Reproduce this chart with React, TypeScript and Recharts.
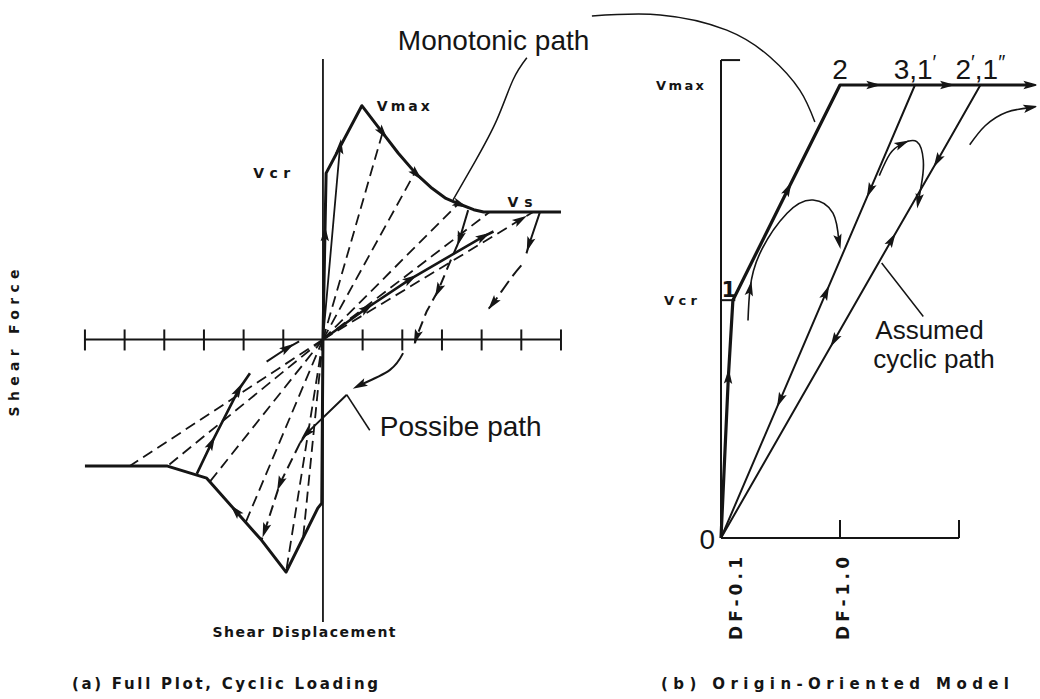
import React from 'react';
import { LineChart, Line, XAxis, YAxis, ReferenceLine, ReferenceDot } from 'recharts';

type Pt = { x: number; y: number; arrow?: number };

const INK = '#151515';
const W = 1040;
const H = 699;
const PLOT_FONT = "'DejaVu Sans', sans-serif";
const HAND_FONT = "'Liberation Sans', Arial, sans-serif";
const ORIGIN: Pt = { x: 0, y: 0 };

// ---------- (a) full plot: displacement in tick steps, force scaled so Vmax = 6 ----------
const dispTicks = [-6, -5, -4, -3, -2, -1, 0, 1, 2, 3, 4, 5, 6];
const forceAxis = [-7.25, 7.2];

const envelopePos: Pt[] = [
  { x: 0, y: 0 }, { x: 0.05, y: 2.7, arrow: 1 }, { x: 0.08, y: 4.27 }, { x: 0.98, y: 6.0 },
  { x: 1.5, y: 5.31, arrow: 1 }, { x: 1.9, y: 4.78 }, { x: 2.35, y: 4.25, arrow: 1 }, { x: 2.75, y: 3.88 },
  { x: 3.1, y: 3.62 }, { x: 3.45, y: 3.47, arrow: 1 }, { x: 3.8, y: 3.33 }, { x: 4.05, y: 3.27 }, { x: 6, y: 3.27 },
];
const envelopeNeg: Pt[] = [
  { x: 0, y: 0 }, { x: -0.03, y: -4.2 }, { x: -0.13, y: -4.33 }, { x: -0.93, y: -5.97 },
  { x: -1.55, y: -5.15 }, { x: -2.2, y: -4.4, arrow: 1 }, { x: -2.93, y: -3.56 }, { x: -3.92, y: -3.25 }, { x: -6, y: -3.25 },
];
const peakReload: Pt[] = [{ x: 0, y: 0 }, { x: 0.43, y: 4.94, arrow: 1 }, { x: 0.6, y: 5.27 }];
const rayEndsPos: Pt[] = [{ x: 1.5, y: 5.3 }, { x: 2.3, y: 4.25 }, { x: 3.4, y: 3.47 }, { x: 4.2, y: 3.27 }];
const rayEndsNeg: Pt[] = [
  { x: -0.5, y: -5.09 }, { x: -0.93, y: -5.97 }, { x: -1.95, y: -4.7 },
  { x: -2.85, y: -3.65 }, { x: -3.92, y: -3.25 }, { x: -4.87, y: -3.25 },
];
const plateauRay: Pt[] = [{ x: 0, y: 0 }, { x: 4.97, y: 3.07, arrow: 1 }, { x: 5.3, y: 3.27 }];
const cyclicReload: Pt[] = [
  { x: 0, y: 0 }, { x: 1.1, y: 0.8, arrow: 1 }, { x: 2.2, y: 1.55, arrow: 1 }, { x: 4.04, y: 2.64, arrow: 1 }, { x: 4.3, y: 2.77 },
];
const unloadStep: Pt[] = [{ x: 3.66, y: 3.32 }, { x: 3.45, y: 2.6, arrow: 1 }, { x: 3.4, y: 2.45 }];
const unloadTrail: Pt[] = [
  { x: 3.4, y: 2.45 }, { x: 3.24, y: 2.08 }, { x: 2.91, y: 1.27, arrow: 1 }, { x: 2.61, y: 0.71 },
  { x: 2.36, y: 0.07, arrow: 1 }, { x: 2.32, y: -0.1 },
];
const crossCurve: Pt[] = [{ x: 2.02, y: -0.35 }, { x: 1.69, y: -0.78 }, { x: 0.93, y: -1.17, arrow: 1 }];
const possibleSolid: Pt[] = [{ x: 0.6, y: -1.42 }, { x: -0.41, y: -2.41, arrow: 1 }, { x: -0.58, y: -2.66 }];
const possibleDashed: Pt[] = [
  { x: -0.58, y: -2.66 }, { x: -1.08, y: -3.69, arrow: 1 }, { x: -1.46, y: -4.89, arrow: 1 }, { x: -1.55, y: -5.15 },
];
const farUnloadSolid: Pt[] = [{ x: 5.47, y: 3.27 }, { x: 5.2, y: 2.45, arrow: 1 }, { x: 5.13, y: 2.21 }];
const farUnloadDashed: Pt[] = [
  { x: 5.0, y: 1.9 }, { x: 4.71, y: 1.53 }, { x: 4.29, y: 0.93, arrow: 1 }, { x: 4.13, y: 0.76 },
];
const negReload: Pt[] = [
  { x: -3.18, y: -3.45 }, { x: -2.81, y: -2.66, arrow: 1 }, { x: -2.13, y: -1.3, arrow: 1 }, { x: -1.84, y: -0.87 },
];
const negReturn: Pt[] = [{ x: -1.42, y: -0.57 }, { x: -0.9, y: -0.22, arrow: 1 }, { x: -0.6, y: -0.05 }];

const monoLeaderLeft: Pt[] = [
  { x: 5.14, y: 7.23 }, { x: 4.79, y: 6.66 }, { x: 4.38, y: 5.63 }, { x: 3.83, y: 4.56 }, { x: 3.28, y: 3.58 },
];
const monoLeaderRight: Pt[] = [
  { x: 6.78, y: 8.3 }, { x: 8.5, y: 8.33 }, { x: 10.18, y: 7.94 }, { x: 11.27, y: 7.25 }, { x: 12.02, y: 6.4 }, { x: 12.4, y: 5.58 },
];
const possibleLeader: Pt[] = [{ x: 1.18, y: -2.33 }, { x: 0.6, y: -1.42 }];

// ---------- (b) origin-oriented model: x in DF, force as V / Vmax ----------
const dfTicks = [1, 2];
const dfTickLabels = [{ x: 0.1, text: 'DF-0.1' }, { x: 1.0, text: 'DF-1.0' }];
const vcrB = 0.525;
const vmaxB = 1;
const forceTopB = 1.055;

const envelopeB: Pt[] = [
  { x: 0, y: 0 }, { x: 0.062, y: 0.356, arrow: 1 }, { x: 0.1, y: vcrB }, { x: 0.563, y: 0.77, arrow: 1 },
  { x: 1, y: vmaxB }, { x: 1.28, y: 1, arrow: 1 }, { x: 1.9, y: 1, arrow: 1 }, { x: 2.6, y: 1, arrow: 1 },
];
const pathA: Pt[] = [
  { x: 1.63, y: 1 }, { x: 1.252, y: 0.768, arrow: 1 }, { x: 0.882, y: 0.541, arrow: -1 }, { x: 0.497, y: 0.305, arrow: 1 }, { x: 0, y: 0 },
];
const pathB: Pt[] = [
  { x: 2.18, y: 1 }, { x: 1.82, y: 0.834, arrow: 1 }, { x: 1.434, y: 0.658, arrow: -1 }, { x: 0.953, y: 0.437, arrow: 1 }, { x: 0, y: 0 },
];
const loopOne: Pt[] = [
  { x: 0.227, y: 0.48 }, { x: 0.244, y: 0.55, arrow: 1 }, { x: 0.328, y: 0.629 }, { x: 0.555, y: 0.717 },
  { x: 0.773, y: 0.746 }, { x: 0.941, y: 0.717 }, { x: 0.99, y: 0.655, arrow: 1 },
];
const loopTwo: Pt[] = [
  { x: 1.33, y: 0.8 }, { x: 1.42, y: 0.848 }, { x: 1.52, y: 0.87, arrow: 1 }, { x: 1.645, y: 0.875 },
  { x: 1.7, y: 0.834 }, { x: 1.69, y: 0.79 }, { x: 1.66, y: 0.745, arrow: 1 },
];
const curveOut: Pt[] = [{ x: 2.09, y: 0.868 }, { x: 2.22, y: 0.91 }, { x: 2.4, y: 0.94 }, { x: 2.6, y: 0.95, arrow: 1 }];
const assumedLeader: Pt[] = [{ x: 1.7, y: 0.489 }, { x: 1.504, y: 0.555 }, { x: 1.35, y: 0.607 }];

// arrowhead drawn on flagged points, pointing along the path (or against it for -1)
const arrowDot = (props: any) => {
  const { cx, cy, index, payload, points, key } = props;
  const dir = payload?.arrow;
  if (!dir || !points || cx == null) return <g key={key ?? index} />;
  const a = points[Math.max(index - 1, 0)];
  const b = points[Math.min(index + 1, points.length - 1)];
  const ang = (Math.atan2(b.y - a.y, b.x - a.x) * 180) / Math.PI + (dir < 0 ? 180 : 0);
  return (
    <path
      key={key ?? index}
      d="M8,0 L-7,-4.2 L-4,0 L-7,4.2 Z"
      transform={`translate(${cx},${cy}) rotate(${ang})`}
      fill={INK}
    />
  );
};

type Stroke = { w?: number; dash?: string; curve?: 'linear' | 'natural' };
const path = (id: string, data: Pt[], s: Stroke = {}) => (
  <Line
    key={id}
    data={data}
    dataKey="y"
    type={s.curve ?? 'linear'}
    stroke={INK}
    strokeWidth={s.w ?? 1.8}
    strokeDasharray={s.dash}
    strokeLinejoin="round"
    dot={arrowDot}
    activeDot={false}
    isAnimationActive={false}
  />
);

const tag = (id: string, at: Pt, draw: (cx: number, cy: number) => React.ReactElement) => (
  <ReferenceDot key={id} x={at.x} y={at.y} r={0} ifOverflow="visible" shape={(p: any) => draw(p.cx, p.cy)} />
);

const plotText = (x: number, y: number, text: string, o: { size?: number; len?: number; anchor?: string; rot?: number } = {}) => (
  <text
    x={x}
    y={y}
    fontFamily={PLOT_FONT}
    fontWeight="bold"
    fontSize={o.size ?? 14}
    textAnchor={o.anchor ?? 'start'}
    textLength={o.len}
    lengthAdjust="spacing"
    transform={o.rot ? `rotate(${o.rot} ${x} ${y})` : undefined}
    fill={INK}
  >
    {text}
  </text>
);

const handText = (x: number, y: number, text: React.ReactNode, anchor = 'start', size = 28) => (
  <text x={x} y={y} fontFamily={HAND_FONT} fontSize={size} textAnchor={anchor} fill={INK}>
    {text}
  </text>
);

const DASH = '11 6';

function FullPlot() {
  return (
    <LineChart width={W} height={H} margin={{ top: 8.3, right: 3, bottom: 8.9, left: 5.6 }}>
      <XAxis type="number" dataKey="x" domain={[-8, 18]} hide allowDataOverflow />
      <YAxis type="number" domain={[-9, 8.5]} hide allowDataOverflow />

      <ReferenceLine segment={[{ x: dispTicks[0], y: 0 }, { x: dispTicks[dispTicks.length - 1], y: 0 }]} stroke={INK} strokeWidth={2} />
      <ReferenceLine segment={[{ x: 0, y: forceAxis[0] }, { x: 0, y: forceAxis[1] }]} stroke={INK} strokeWidth={1.8} />
      {dispTicks.map((t) =>
        tag(`t${t}`, { x: t, y: 0 }, (cx, cy) => (
          <line x1={cx} x2={cx} y1={cy - 10} y2={cy + 11} stroke={INK} strokeWidth={2} />
        )),
      )}

      {rayEndsPos.map((p, i) => path(`rp${i}`, [ORIGIN, p], { dash: DASH }))}
      {rayEndsNeg.map((p, i) => path(`rn${i}`, [ORIGIN, p], { dash: DASH }))}
      {path('plateauRay', plateauRay, { dash: DASH })}
      {path('envPos', envelopePos, { w: 3 })}
      {path('envNeg', envelopeNeg, { w: 3 })}
      {path('peakReload', peakReload)}
      {path('cyclicReload', cyclicReload, { w: 2.6 })}
      {path('unloadStep', unloadStep, { w: 2 })}
      {path('unloadTrail', unloadTrail, { w: 2, dash: DASH })}
      {path('crossCurve', crossCurve, { w: 2, curve: 'natural' })}
      {path('possibleSolid', possibleSolid, { w: 2 })}
      {path('possibleDashed', possibleDashed, { w: 2, dash: DASH })}
      {path('farUnloadSolid', farUnloadSolid, { w: 2 })}
      {path('farUnloadDashed', farUnloadDashed, { w: 2, dash: '14 6', curve: 'natural' })}
      {path('negReload', negReload, { w: 2.6 })}
      {path('negReturn', negReturn, { w: 2 })}
      {path('monoLeft', monoLeaderLeft, { w: 1.5, curve: 'natural' })}
      {path('monoRight', monoLeaderRight, { w: 1.5, curve: 'natural' })}
      {path('possibleLeader', possibleLeader, { w: 1.5 })}

      {tag('vcr', envelopePos[2], (cx, cy) => plotText(cx - 36, cy + 5, 'Vcr', { len: 37, anchor: 'end' }))}
      {tag('vmax', envelopePos[3], (cx, cy) => plotText(cx + 15, cy + 5, 'Vmax', { len: 53 }))}
      {tag('vs', envelopePos[11], (cx, cy) => plotText(cx + 24, cy - 5, 'Vs', { len: 25 }))}
      {tag('mono', monoLeaderLeft[0], (cx, cy) => handText(cx - 129, cy - 8, 'Monotonic path'))}
      {tag('possible', possibleLeader[0], (cx, cy) => handText(cx + 10, cy + 6, 'Possibe path'))}

      {plotText(19, 343, 'Shear Force', { len: 147, anchor: 'middle', rot: -90 })}
      {plotText(304, 637, 'Shear Displacement', { len: 183, anchor: 'middle' })}
      {plotText(225, 689, '(a) Full Plot, Cyclic Loading', { len: 306, anchor: 'middle', size: 15 })}
    </LineChart>
  );
}

function OriginModel() {
  return (
    <LineChart width={W} height={H} margin={{ top: 17.05, right: 3.65, bottom: 2.45, left: 7 }}>
      <XAxis type="number" dataKey="x" domain={[-6, 2.65]} hide allowDataOverflow />
      <YAxis type="number" domain={[-0.35, 1.15]} hide allowDataOverflow />

      <ReferenceLine segment={[{ x: 0, y: 0 }, { x: 0, y: forceTopB }]} stroke={INK} strokeWidth={2} />
      <ReferenceLine segment={[{ x: 0, y: forceTopB }, { x: 0.16, y: forceTopB }]} stroke={INK} strokeWidth={2} />
      <ReferenceLine segment={[{ x: 0, y: vcrB }, { x: 0.12, y: vcrB }]} stroke={INK} strokeWidth={2} />
      <ReferenceLine segment={[{ x: 0, y: 0 }, { x: dfTicks[dfTicks.length - 1], y: 0 }]} stroke={INK} strokeWidth={2} />
      {dfTicks.map((t) =>
        tag(`df${t}`, { x: t, y: 0 }, (cx, cy) => <line x1={cx} x2={cx} y1={cy} y2={cy - 18} stroke={INK} strokeWidth={2} />),
      )}
      {dfTickLabels.map((d) =>
        tag(`dfl${d.x}`, { x: d.x, y: 0 }, (cx, cy) => plotText(cx + 9, cy + 102, d.text, { size: 17, len: 83, rot: -90 })),
      )}

      {path('pathA', pathA, { w: 2 })}
      {path('pathB', pathB, { w: 2 })}
      {path('envB', envelopeB, { w: 3.2 })}
      {path('loopOne', loopOne, { w: 1.6, curve: 'natural' })}
      {path('loopTwo', loopTwo, { w: 1.6, curve: 'natural' })}
      {path('curveOut', curveOut, { w: 1.6, curve: 'natural' })}
      {path('assumedLeader', assumedLeader, { w: 1.5, curve: 'natural' })}

      {tag('bmax', { x: 0, y: vmaxB }, (cx, cy) => plotText(cx - 17, cy + 5, 'Vmax', { len: 48, anchor: 'end', size: 13 }))}
      {tag('bcr', { x: 0, y: vcrB }, (cx, cy) => plotText(cx - 24, cy + 5, 'Vcr', { len: 33, anchor: 'end', size: 13 }))}
      {tag('b0', ORIGIN, (cx, cy) => handText(cx - 6, cy + 11, '0', 'end'))}
      {tag('b1', envelopeB[2], (cx, cy) => plotText(cx - 4, cy - 3, '1', { size: 21, anchor: 'middle' }))}
      {tag('b2', envelopeB[4], (cx, cy) => handText(cx, cy - 6, '2', 'middle'))}
      {tag('b31', pathA[0], (cx, cy) =>
        handText(cx, cy - 6, <>3,1<tspan dy={-10} fontSize={20}>′</tspan></>, 'middle'),
      )}
      {tag('b21', pathB[0], (cx, cy) =>
        handText(
          cx,
          cy - 6,
          <>2<tspan dy={-10} fontSize={20}>′</tspan><tspan dy={10}>,1</tspan><tspan dy={-10} fontSize={20}>″</tspan></>,
          'middle',
        ),
      )}
      {tag('assumed', assumedLeader[0], (cx, cy) => (
        <g>
          {handText(cx - 48, cy + 23, 'Assumed', 'start', 26)}
          {handText(cx - 50, cy + 52, 'cyclic path', 'start', 26)}
        </g>
      ))}

      {plotText(835, 689, '(b) Origin-Oriented Model', { len: 348, anchor: 'middle', size: 15 })}
    </LineChart>
  );
}

export default function App() {
  return (
    <div style={{ position: 'relative', width: W, height: H, background: '#fff', overflow: 'hidden' }}>
      <style>{'body{margin:0}'}</style>
      <div style={{ position: 'absolute', left: 0, top: 0 }}>
        <FullPlot />
      </div>
      <div style={{ position: 'absolute', left: 0, top: 0 }}>
        <OriginModel />
      </div>
    </div>
  );
}
